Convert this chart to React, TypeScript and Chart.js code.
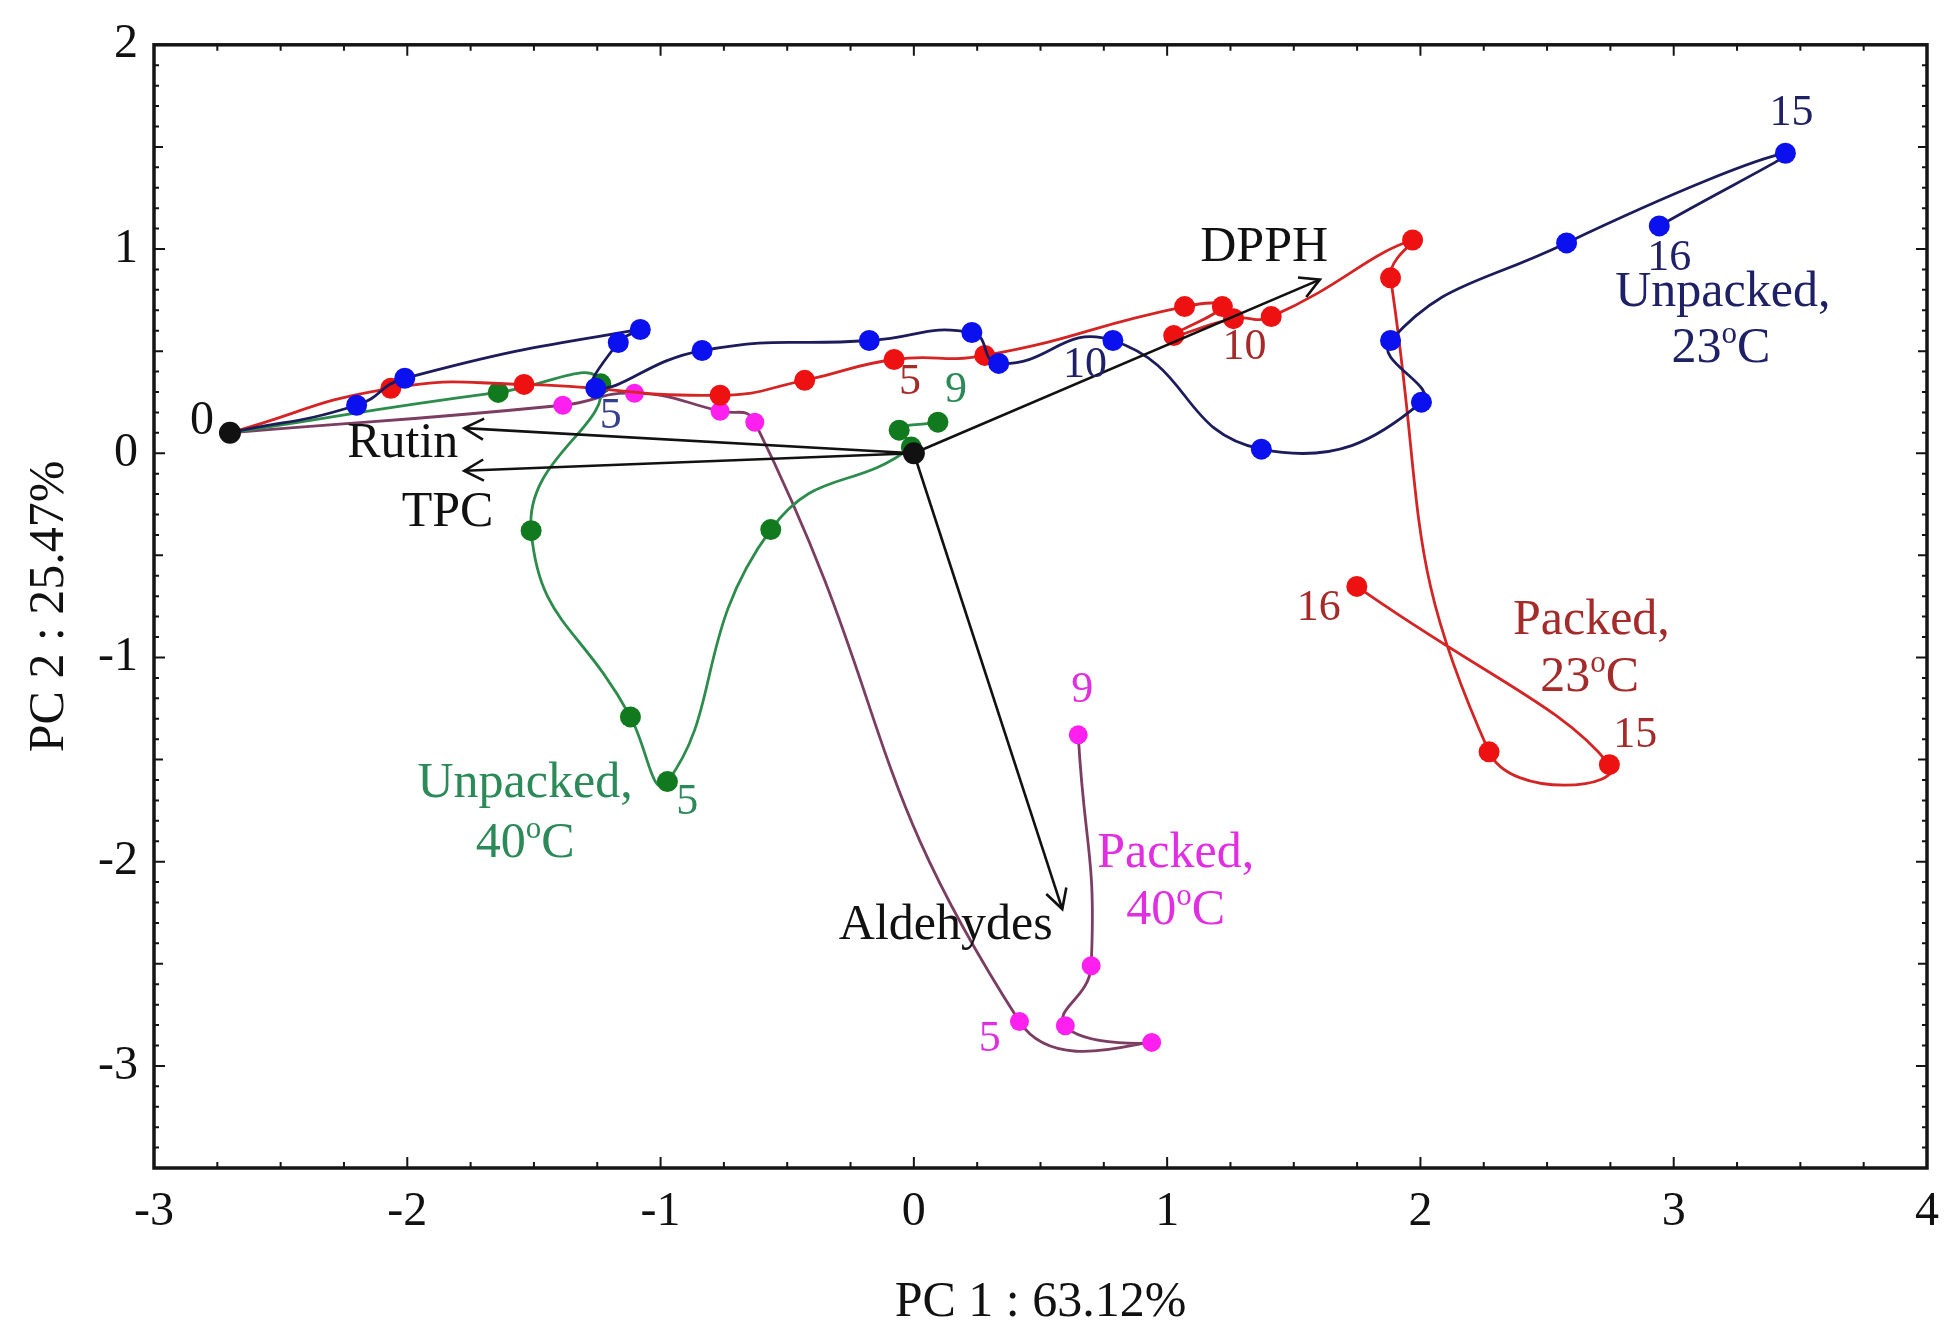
import React, { useEffect, useRef } from "react";
import { Chart, registerables } from "chart.js";

Chart.register(...registerables);

// ---------- data (PC1, PC2 scores by storage day) ----------
const unpacked23: [number, number][] = [
  [-2.7, 0.1], [-2.2, 0.235], [-2.01, 0.367], [-1.08, 0.606], [-1.167, 0.542], [-1.256, 0.318],
  [-0.836, 0.503], [-0.176, 0.552], [0.229, 0.591], [0.335, 0.44], [0.786, 0.552], [1.372, 0.02],
  [2.004, 0.25], [1.882, 0.552], [2.577, 1.03], [3.441, 1.469], [2.943, 1.113],
];
const packed23: [number, number][] = [
  [-2.7, 0.1], [-2.065, 0.318], [-1.539, 0.337], [-0.765, 0.284], [-0.431, 0.357], [-0.078, 0.459],
  [0.28, 0.479], [1.069, 0.718], [1.218, 0.718], [1.026, 0.576], [1.262, 0.659], [1.411, 0.669],
  [1.969, 1.044], [1.882, 0.859], [2.271, -1.462], [2.746, -1.525], [1.749, -0.652],
];
const unpacked40: [number, number][] = [
  [-2.7, 0.1], [-1.641, 0.298], [-1.236, 0.34], [-1.511, -0.379], [-1.119, -1.291], [-0.973, -1.608],
  [-0.565, -0.374], [-0.01, 0.03], [-0.058, 0.113], [0.095, 0.152],
];
const packed40: [number, number][] = [
  [-2.7, 0.1], [-1.386, 0.235], [-1.103, 0.294], [-0.765, 0.206], [-0.628, 0.152], [0.417, -2.783],
  [0.939, -2.885], [0.598, -2.803], [0.7, -2.51], [0.649, -1.379],
];
const originPoints: [number, number][] = [[-2.7, 0.1], [0, 0]];

// loading vectors (arrows from origin)
const loadingNames = ["Rutin", "TPC", "DPPH", "Aldehydes"];
const loadingX = [-1.775, -1.775, 1.603, 0.586];
const loadingY = [0.123, -0.086, 0.85, -2.232];

const xTickValues = [-3, -2, -1, 0, 1, 2, 3, 4];
const yTickValues = [-3, -2, -1, 0, 1, 2];

// text annotations
type Note = { t: string; x: number; y: number; c: string; s: number; sup?: boolean };
const BLUE_T = "#1f2166";
const RED_T = "#a52a2a";
const GREEN_T = "#2b8a57";
const MAG_T = "#e22ee2";
const notes: Note[] = [
  { t: "0", x: -2.81, y: 0.157, c: "#111", s: 48 },
  { t: "Rutin", x: -2.018, y: 0.045, c: "#111", s: 50 },
  { t: "TPC", x: -1.841, y: -0.29, c: "#111", s: 50 },
  { t: "DPPH", x: 1.383, y: 1.005, c: "#111", s: 50 },
  { t: "Aldehydes", x: 0.126, y: -2.315, c: "#111", s: 50 },
  { t: "5", x: -1.197, y: 0.181, c: "#34408f", s: 44 },
  { t: "10", x: 0.676, y: 0.43, c: BLUE_T, s: 44 },
  { t: "15", x: 3.465, y: 1.664, c: BLUE_T, s: 44 },
  { t: "16", x: 2.982, y: 0.952, c: BLUE_T, s: 44 },
  { t: "Unpacked,", x: 3.194, y: 0.786, c: BLUE_T, s: 50 },
  { t: "23oC", x: 3.186, y: 0.513, c: BLUE_T, s: 50, sup: true },
  { t: "5", x: -0.015, y: 0.346, c: RED_T, s: 44 },
  { t: "10", x: 1.305, y: 0.518, c: RED_T, s: 44 },
  { t: "16", x: 1.599, y: -0.76, c: RED_T, s: 44 },
  { t: "15", x: 2.848, y: -1.38, c: RED_T, s: 44 },
  { t: "Packed,", x: 2.675, y: -0.823, c: RED_T, s: 50 },
  { t: "23oC", x: 2.668, y: -1.1, c: RED_T, s: 50, sup: true },
  { t: "9", x: 0.166, y: 0.307, c: GREEN_T, s: 44 },
  { t: "5", x: -0.895, y: -1.71, c: GREEN_T, s: 44 },
  { t: "Unpacked,", x: -1.535, y: -1.62, c: GREEN_T, s: 50 },
  { t: "40oC", x: -1.535, y: -1.915, c: GREEN_T, s: 50, sup: true },
  { t: "9", x: 0.665, y: -1.16, c: MAG_T, s: 44 },
  { t: "5", x: 0.3, y: -2.87, c: MAG_T, s: 44 },
  { t: "Packed,", x: 1.034, y: -1.964, c: MAG_T, s: 50 },
  { t: "40oC", x: 1.034, y: -2.24, c: MAG_T, s: 50, sup: true },
];

const FONT = "'Liberation Serif', 'Times New Roman', serif";

const toXY = (pts: [number, number][]) => pts.map(([x, y]) => ({ x, y }));

function seriesDataset(label: string, pts: [number, number][], line: string, marker: string, r: number) {
  return {
    label,
    data: toXY(pts),
    showLine: true,
    borderColor: line,
    borderWidth: 2.8,
    tension: 0.5,
    pointRadius: (ctx: any) => (ctx.dataIndex === 0 ? 0 : r),
    pointHoverRadius: r,
    pointBackgroundColor: marker,
    pointBorderColor: marker,
    pointBorderWidth: 0,
  };
}

const annotationPlugin = {
  id: "annotations",
  afterDatasetsDraw(chart: any) {
    const { ctx, scales } = chart;
    const xs = scales.x;
    const ys = scales.y;
    ctx.save();
    // arrowheads
    chart.data.datasets.forEach((ds: any, i: number) => {
      if (!ds.isArrow) return;
      const meta = chart.getDatasetMeta(i);
      const p0 = meta.data[0];
      const p1 = meta.data[1];
      const ang = Math.atan2(p1.y - p0.y, p1.x - p0.x);
      const L = 22;
      const spread = 0.5;
      ctx.strokeStyle = "#111";
      ctx.lineWidth = 2.6;
      ctx.beginPath();
      ctx.moveTo(p1.x - L * Math.cos(ang - spread), p1.y - L * Math.sin(ang - spread));
      ctx.lineTo(p1.x, p1.y);
      ctx.lineTo(p1.x - L * Math.cos(ang + spread), p1.y - L * Math.sin(ang + spread));
      ctx.stroke();
    });
    // text notes
    ctx.textBaseline = "middle";
    for (const n of notes) {
      const px = xs.getPixelForValue(n.x);
      const py = ys.getPixelForValue(n.y);
      ctx.fillStyle = n.c;
      if (n.sup) {
        const idx = n.t.indexOf("oC");
        const pre = n.t.slice(0, idx);
        const supS = Math.round(n.s * 0.62);
        ctx.font = `${n.s}px ${FONT}`;
        const wPre = ctx.measureText(pre).width;
        const wC = ctx.measureText("C").width;
        ctx.font = `${supS}px ${FONT}`;
        const wO = ctx.measureText("o").width;
        const total = wPre + wO + wC;
        let cx = px - total / 2;
        ctx.textAlign = "left";
        ctx.font = `${n.s}px ${FONT}`;
        ctx.fillText(pre, cx, py);
        cx += wPre;
        ctx.font = `${supS}px ${FONT}`;
        ctx.fillText("o", cx, py - n.s * 0.28);
        cx += wO;
        ctx.font = `${n.s}px ${FONT}`;
        ctx.fillText("C", cx, py);
      } else {
        ctx.textAlign = "center";
        ctx.font = `${n.s}px ${FONT}`;
        ctx.fillText(n.t, px, py);
      }
    }
    ctx.restore();
  },
  afterDraw(chart: any) {
    const { ctx, chartArea: a, scales } = chart;
    const xs = scales.x;
    const ys = scales.y;
    ctx.save();
    ctx.strokeStyle = "#151515";
    ctx.lineWidth = 3.5;
    ctx.strokeRect(a.left, a.top, a.right - a.left, a.bottom - a.top);
    ctx.lineWidth = 2;
    ctx.beginPath();
    for (let i = 0; i <= 28; i++) {
      const v = xs.min + i * 0.25;
      const px = xs.getPixelForValue(v);
      const len = i % 4 === 0 ? 11 : 6;
      ctx.moveTo(px, a.bottom);
      ctx.lineTo(px, a.bottom - len);
      ctx.moveTo(px, a.top);
      ctx.lineTo(px, a.top + len);
    }
    for (let i = 0; i <= 55; i++) {
      const v = ys.min + i * 0.1;
      const py = ys.getPixelForValue(v);
      const len = (i + 5) % 10 === 0 ? 11 : i % 5 === 0 ? 9 : 5;
      ctx.moveTo(a.left, py);
      ctx.lineTo(a.left + len, py);
      ctx.moveTo(a.right, py);
      ctx.lineTo(a.right - len, py);
    }
    ctx.stroke();
    ctx.restore();
  },
};

export default function App() {
  const canvasRef = useRef<HTMLCanvasElement | null>(null);

  useEffect(() => {
    const canvas = canvasRef.current;
    if (!canvas) return;

    const arrowSets = loadingNames.map((name, i) => ({
      label: name,
      isArrow: true,
      data: [{ x: 0, y: 0 }, { x: loadingX[i], y: loadingY[i] }],
      showLine: true,
      borderColor: "#111",
      borderWidth: 2.6,
      tension: 0,
      pointRadius: 0,
      pointHoverRadius: 0,
    }));

    const chart = new Chart(canvas, {
      type: "scatter",
      data: {
        datasets: [
          {
            label: "Day 0",
            data: toXY(originPoints),
            pointRadius: 11,
            pointBackgroundColor: "#111",
            pointBorderColor: "#111",
            pointBorderWidth: 0,
            showLine: false,
          } as any,
          ...arrowSets,
          seriesDataset("Unpacked, 23oC", unpacked23, "#1c1c5c", "#0a10ee", 10.5),
          seriesDataset("Packed, 23oC", packed23, "#d42424", "#ee1111", 10.5),
          seriesDataset("Unpacked, 40oC", unpacked40, "#2c8c4c", "#127a1e", 10.5),
          seriesDataset("Packed, 40oC", packed40, "#7c3d63", "#ff1fee", 9.5),
        ],
      },
      options: {
        animation: false,
        responsive: false,
        devicePixelRatio: 1,
        layout: { padding: { top: 40, right: 19, left: 0, bottom: 0 } },
        plugins: { legend: { display: false }, tooltip: { enabled: false }, title: { display: false } },
        scales: {
          x: {
            type: "linear",
            min: -3,
            max: 4,
            grid: { display: false, drawTicks: false },
            border: { display: false },
            afterFit: (s: any) => { s.height = 157; },
            afterBuildTicks: (s: any) => { s.ticks = xTickValues.map((v) => ({ value: v })); },
            ticks: { color: "#111", font: { family: FONT, size: 48 }, padding: 16, maxRotation: 0 },
            title: {
              display: true,
              text: "PC 1 : 63.12%",
              color: "#111",
              font: { family: FONT, size: 50, lineHeight: 0.8 },
              padding: { top: 0, bottom: 2 },
            },
          },
          y: {
            type: "linear",
            min: -3.5,
            max: 2,
            grid: { display: false, drawTicks: false },
            border: { display: false },
            afterFit: (s: any) => { s.width = 154; },
            afterBuildTicks: (s: any) => { s.ticks = yTickValues.map((v) => ({ value: v })); },
            ticks: { color: "#111", font: { family: FONT, size: 48 }, padding: 16 },
            title: {
              display: true,
              text: "PC 2 : 25.47%",
              color: "#111",
              font: { family: FONT, size: 50, lineHeight: 0.8 },
              padding: { top: 30, bottom: 0 },
            },
          },
        },
      } as any,
      plugins: [annotationPlugin],
    });

    return () => chart.destroy();
  }, []);

  return (
    <div style={{ position: "absolute", left: 0, top: 0, width: 1955, height: 1325, background: "#fff" }}>
      <canvas ref={canvasRef} width={1955} height={1325} style={{ display: "block", width: 1955, height: 1325 }} />
    </div>
  );
}
